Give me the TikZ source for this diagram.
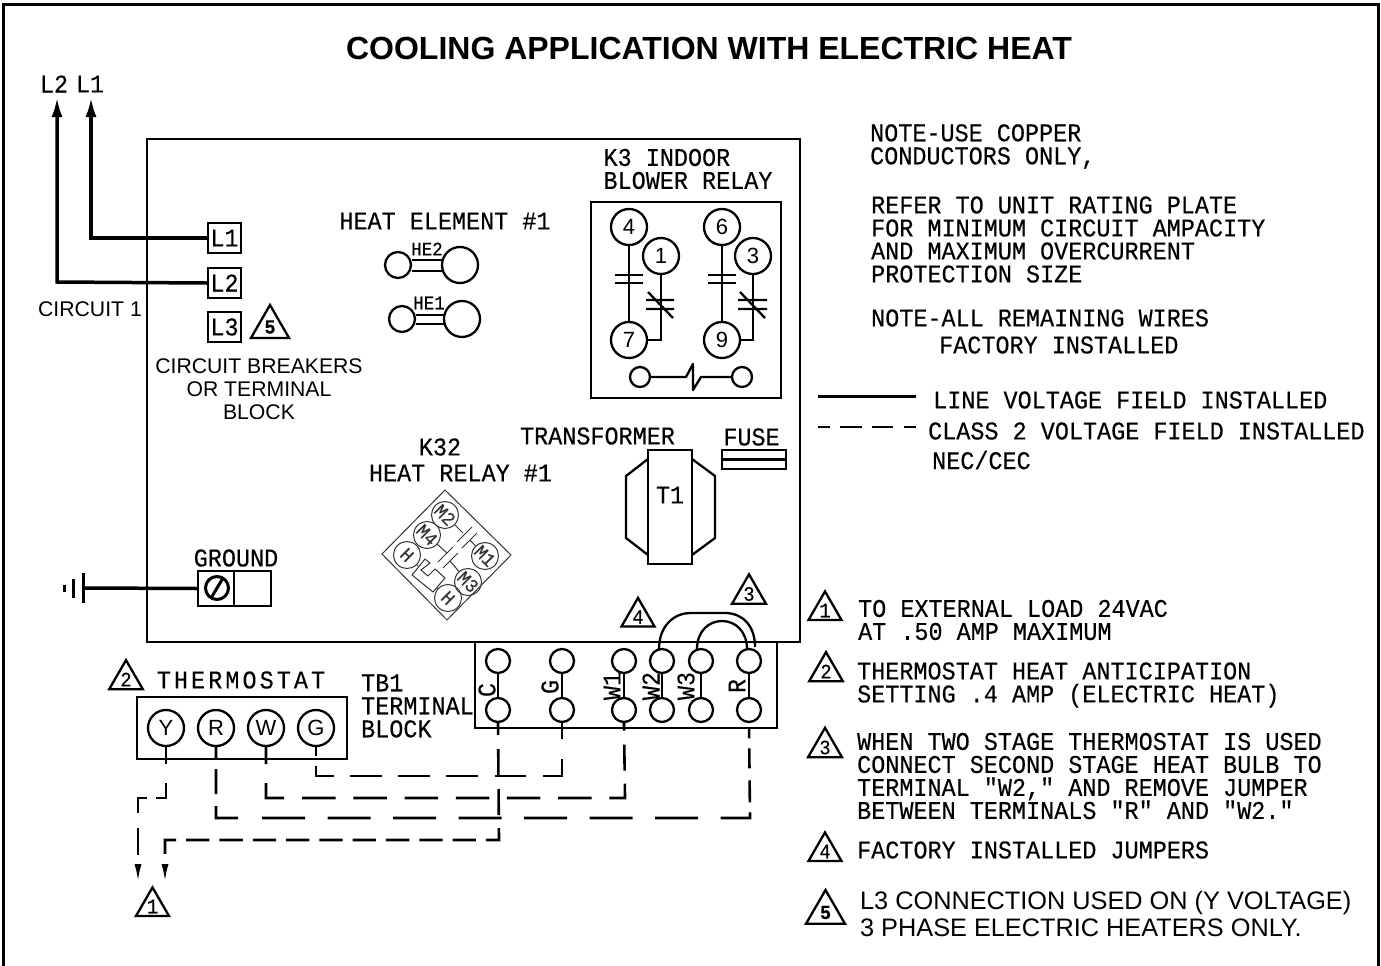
\documentclass[tikz,border=0pt]{standalone}
\usepackage{fontspec}
\setmainfont{Liberation Sans}
\newfontfamily\cadfont[FakeStretch=0.92,FakeBold=0.3]{Liberation Mono}
\newfontfamily\cadwide[FakeStretch=0.92,FakeBold=0.3,LetterSpace=12]{Liberation Mono}
\usetikzlibrary{arrows.meta,shapes.geometric}
\tikzset{%
  >={Latex[width=11pt,length=20pt]},
  % Specifications for style of nodes:
    cadText/.style = {inner sep=0pt, align=left, font=\cadfont\fontsize{25.5}{23}\selectfont},
    sansText/.style = {inner sep=0pt, align=center, font=\fontsize{21.2}{23}\selectfont},
    lugBox/.style = {rectangle, draw=black, line width=2.3pt, minimum width=33pt, minimum height=30pt, inner sep=0pt,
                     font=\cadfont\fontsize{25.5}{23}\selectfont},
    relayPin/.style = {circle, draw=black, line width=2.3pt, minimum size=36pt, inner sep=0pt,
                       font=\fontsize{22}{22}\selectfont},
    coilPin/.style = {circle, draw=black, line width=2.3pt, minimum size=20pt, inner sep=0pt},
    heatSmall/.style = {circle, draw=black, line width=2.3pt, minimum size=26pt, inner sep=0pt},
    heatBig/.style = {circle, draw=black, line width=2.3pt, minimum size=36pt, inner sep=0pt},
    heatText/.style = {inner sep=0pt, font=\cadfont\fontsize{19}{19}\selectfont},
    tbPin/.style = {circle, draw=black, line width=2.3pt, minimum size=24pt, inner sep=0pt},
    tbText/.style = {cadText, rotate=90},
    k32Pin/.style = {circle, draw=black!80, line width=1pt, minimum size=27pt, inner sep=0pt, rotate=-45,
                     font=\cadfont\fontsize{19}{19}\selectfont, text=black!80},
    noteMark/.style = {regular polygon, regular polygon sides=3, draw=black, line join=miter, line width=2.3pt,
                       minimum size=38pt, inner sep=0pt, font=\cadfont\fontsize{20.5}{20.5}\selectfont},
    fieldWire/.style = {line width=3.5pt},
    classWire/.style = {line width=2.6pt},
    loadTip/.style = {-{Latex[width=7pt,length=19pt]}},
    dashY/.style = {classWire, dash pattern=on 17 off 19 on 25 off 9 on 24 off 15 on 27 off 30},
    dashR/.style = {classWire, dash pattern=on 11 off 11 on 25 off 12 on 34 off 24
                    on 43 off 22.5 on 43 off 22.5 on 43 off 22.5 on 43 off 22.5 on 43 off 22.5 on 43 off 22.5 on 43 off 22.5
                    on 35 off 10 on 22 off 12 on 20 off 10 on 11 off 5},
    dashW/.style = {classWire, dash pattern=on 17 off 19 on 33 off 18
                    on 33.5 off 17.7 on 33.5 off 17.7 on 33.5 off 17.7 on 33.5 off 17.7 on 33.5 off 17.7 on 33.5 off 17.7
                    on 30 off 13 on 26 off 14 on 11 off 5},
    dashG/.style = {classWire, dash pattern=on 9 off 10 on 28 off 16 on 32 off 16 on 32 off 16 on 32 off 17 on 31 off 17
                    on 36 off 20 on 16 off 5},
    dashC/.style = {classWire, dash pattern=on 12 off 14 on 27 off 13 on 26 off 13 on 25 off 10
                    on 23.3 off 10 on 23.3 off 10 on 23.3 off 10 on 23.3 off 10 on 23.3 off 10 on 23.3 off 10 on 23.3 off 10
                    on 23.3 off 10 on 23.3 off 10 on 25 off 30},
}

\begin{document}
\begin{tikzpicture}[x=1pt, y=-1pt, line width=2.3pt]
  \useasboundingbox (0,0) rectangle (1381,966);
  \draw[line width=3pt] (3,966) -- (3,5) -- (1378,5) -- (1378,966);

  \node (title) [inner sep=0pt, font=\bfseries\fontsize{32}{32}\selectfont] at (709,48)
                              {COOLING APPLICATION WITH ELECTRIC HEAT};

  % Specification of nodes (position, etc.)
  \draw (147,642) rectangle (800,139);

  \node (lugOne)   [lugBox] at (224.5,238) {L1};
  \node (lugTwo)   [lugBox, below of=lugOne, node distance=45pt] {L2};
  \node (lugThree) [lugBox, below of=lugTwo, node distance=44pt] {L3};
  \node (markFive) [noteMark, minimum size=44pt, font=\cadfont\bfseries\fontsize{20}{20}\selectfont] at (270,327) {5};

  \node (supplyTwo) [cadText] at (54,84) {L2};
  \node (supplyOne) [cadText] at (90,84) {L1};
  \node (circuitText) [sansText] at (90,309) {CIRCUIT 1};
  \node (breakerText) [sansText] at (259,389) {CIRCUIT BREAKERS\\OR TERMINAL\\BLOCK};

  \node (heatTitle) [cadText] at (445,221) {HEAT ELEMENT \#1};
  \node (heSmallTwo) [heatSmall] at (398,265) {};
  \node (heBigTwo)   [heatBig, right of=heSmallTwo, node distance=62pt] {};
  \node (heSmallOne) [heatSmall] at (402,319) {};
  \node (heBigOne)   [heatBig, right of=heSmallOne, node distance=60pt] {};
  \node (heTextTwo)  [heatText] at (427,249) {HE2};
  \node (heTextOne)  [heatText] at (429,303) {HE1};

  \node (blowerText) [cadText] at (688,169) {K3 INDOOR\\BLOWER RELAY};
  \node (relayBox) [rectangle, draw=black, minimum width=190pt, minimum height=196pt, inner sep=0pt] at (686,300) {};
  \node (pinFour)  [relayPin] at (629,227) {4};
  \node (pinOne)   [relayPin] at (661,256) {1};
  \node (pinSeven) [relayPin] at (629,340) {7};
  \node (pinSix)   [relayPin] at (722,227) {6};
  \node (pinThree) [relayPin] at (753,256) {3};
  \node (pinNine)  [relayPin] at (722,340) {9};
  \node (coilLeft)  [coilPin] at (640,377) {};
  \node (coilRight) [coilPin] at (742,377) {};

  \node (relayText) [cadText] at (440,447) {K32};
  \node (heatRelayText) [cadText] at (460.5,473) {HEAT RELAY \#1};
  \node (transText) [cadText] at (597.5,436) {TRANSFORMER};
  \node (fuseText)  [cadText] at (751.5,437) {FUSE};
  \node (fuseBox) [rectangle, draw=black, minimum width=64pt, minimum height=19pt, inner sep=0pt] at (754,459.5) {};
  \node (coreBox) [rectangle, draw=black, minimum width=44pt, minimum height=114pt, inner sep=0pt] at (670,507) {};
  \node (coreText) [cadText] at (670,495) {T1};

  \node (groundText) [cadText] at (236,558) {GROUND};
  \node (groundBox) [rectangle, draw=black, minimum width=73pt, minimum height=35pt, inner sep=0pt] at (234.5,588.5) {};
  \node (groundScrew) [circle, draw=black, line width=3pt, minimum size=23pt, inner sep=0pt] at (217,588) {};

  \node (pinMTwo)   [k32Pin] at (445,515) {M2};
  \node (pinMFour)  [k32Pin] at (427,535) {M4};
  \node (pinHLeft)  [k32Pin] at (407,555) {H};
  \node (pinMOne)   [k32Pin] at (485,556) {M1};
  \node (pinMThree) [k32Pin] at (468,582) {M3};
  \node (pinHLow)   [k32Pin] at (448,598) {H};

  \node (noteCopper) [cadText, anchor=west] at (869,146.5) {NOTE-USE COPPER\\CONDUCTORS ONLY,};
  \node (noteRating) [cadText, anchor=west] at (870,239.5) {REFER TO UNIT RATING PLATE\\FOR MINIMUM CIRCUIT AMPACITY\\AND MAXIMUM OVERCURRENT\\PROTECTION SIZE};
  \node (noteWires)  [cadText, anchor=west] at (870,318) {NOTE-ALL REMAINING WIRES};
  \node (noteFactory) [cadText, anchor=west] at (938,345) {FACTORY INSTALLED};
  \node (lineText)  [cadText, anchor=west] at (932,400) {LINE VOLTAGE FIELD INSTALLED};
  \node (classText) [cadText, anchor=west] at (927,431) {CLASS 2 VOLTAGE FIELD INSTALLED};
  \node (necText)   [cadText, anchor=west] at (931,460) {NEC/CEC};
  \coordinate (lineStart) at (818,396);
  \coordinate (lineEnd) at (916,396);
  \coordinate (classStart) at (818,427);
  \coordinate (classEnd) at (916,427);

  \node (markOne)   [noteMark] at (825,610.5) {1};
  \node (legendOne) [cadText, anchor=west] at (857,620) {TO EXTERNAL LOAD 24VAC\\AT .50 AMP MAXIMUM};
  \node (markTwo)   [noteMark] at (826,671.5) {2};
  \node (legendTwo) [cadText, anchor=west] at (856,685) {THERMOSTAT HEAT ANTICIPATION\\SETTING .4 AMP (ELECTRIC HEAT)};
  \node (markThree) [noteMark] at (825,747.5) {3};
  \node (legendThree) [cadText, anchor=west] at (856,776) {WHEN TWO STAGE THERMOSTAT IS USED\\CONNECT SECOND STAGE HEAT BULB TO\\TERMINAL "W2," AND REMOVE JUMPER\\BETWEEN TERMINALS "R" AND "W2."};
  \node (markFour)  [noteMark] at (825,851.5) {4};
  \node (legendFour) [cadText, anchor=west] at (856,850) {FACTORY INSTALLED JUMPERS};
  \node (markLast)  [noteMark, minimum size=45pt, font=\cadfont\bfseries\fontsize{20}{20}\selectfont] at (825.5,912.5) {5};
  \node (legendLast) [inner sep=0pt, align=left, anchor=west, font=\fontsize{25.3}{27}\selectfont] at (859,913.5)
                              {L3 CONNECTION USED ON (Y VOLTAGE)\\3 PHASE ELECTRIC HEATERS ONLY.};

  % terminal block
  \node (tbBox) [rectangle, draw=black, minimum width=302pt, minimum height=86pt, inner sep=0pt] at (626,685) {};
  \node (tbCTop) [tbPin] at (498,661) {};
  \node (tbCLow) [tbPin, below of=tbCTop, node distance=49pt] {};
  \node (tbGTop) [tbPin] at (562,661) {};
  \node (tbGLow) [tbPin, below of=tbGTop, node distance=49pt] {};
  \node (tbWOneTop) [tbPin] at (624,661) {};
  \node (tbWOneLow) [tbPin, below of=tbWOneTop, node distance=49pt] {};
  \node (tbWTwoTop) [tbPin] at (662,661) {};
  \node (tbWTwoLow) [tbPin, below of=tbWTwoTop, node distance=49pt] {};
  \node (tbWThreeTop) [tbPin] at (701,661) {};
  \node (tbWThreeLow) [tbPin, below of=tbWThreeTop, node distance=49pt] {};
  \node (tbRTop) [tbPin] at (749,661) {};
  \node (tbRLow) [tbPin, below of=tbRTop, node distance=49pt] {};
  \node (tbCText) [tbText] at (487,690) {C};
  \node (tbGText) [tbText] at (550,687) {G};
  \node (tbWOneText) [tbText] at (612,686) {W1};
  \node (tbWTwoText) [tbText] at (651,686) {W2};
  \node (tbWThreeText) [tbText] at (686,686) {W3};
  \node (tbRText) [tbText] at (737,686) {R};
  \node (markJump) [noteMark] at (638,617) {4};
  \node (markBulb) [noteMark] at (749,594) {3};
  \node (tbTitle) [cadText, anchor=west] at (360,706) {TB1\\TERMINAL\\BLOCK};

  % thermostat
  \node (statBox) [rectangle, draw=black, minimum width=210pt, minimum height=62pt, inner sep=0pt] at (242,728) {};
  \node (statY) [relayPin] at (166,728) {Y};
  \node (statR) [relayPin, right of=statY, node distance=50pt] {R};
  \node (statW) [relayPin, right of=statR, node distance=50pt] {W};
  \node (statG) [relayPin, right of=statW, node distance=50pt] {G};
  \node (statText) [cadText, font=\cadwide\fontsize{25.5}{25.5}\selectfont] at (241,680) {THERMOSTAT};
  \node (markStat) [noteMark] at (126,679.5) {2};
  \node (markLoad) [noteMark] at (152.5,906.5) {1};
  \coordinate (loadLeft) at (138,883);
  \coordinate (loadRight) at (165,883);

  % Specification of lines between nodes specified above
  \draw[fieldWire, ->] (lugOne.west) -- (91,238) -- (91,97);
  \draw[fieldWire, ->] (lugTwo.west) -- (57,282) -- (57,97);

  \draw (heSmallTwo.east) ++(0,-5) -- (442,260);
  \draw (heSmallTwo.east) ++(0,6) -- (442,271);
  \draw (heSmallOne.east) ++(0,-4) -- (444,315);
  \draw (heSmallOne.east) ++(0,5) -- (444,324);

  \draw (pinFour) -- (pinSeven);
  \draw (615,275) -- (643,275) (615,283) -- (643,283);
  \draw (pinOne) -- (pinOne |- pinSeven) -- (pinSeven);
  \draw (646,300) -- (674,300) (646,309) -- (674,309) (648,292) -- (673,318);
  \draw (pinSix) -- (pinNine);
  \draw (708,275) -- (736,275) (708,283) -- (736,283);
  \draw (pinThree) -- (pinThree |- pinNine) -- (pinNine);
  \draw (738,300) -- (767,300) (738,309) -- (767,309) (740,292) -- (765,318);
  \draw[line join=round] (coilLeft) -- (686,377) -- (693,364) -- (693,390) -- (701,377) -- (coilRight);

  \draw (fuseBox.west) -- (fuseBox.east);
  \draw (648,459) -- (626,476) -- (626,538) -- (648,555);
  \draw (692,459) -- (715,476) -- (715,538) -- (692,555);

  \draw[fieldWire] (83,588) -- (groundBox.west);
  \draw (groundBox.north) ++(-0.5,0) -- ++(0,35);
  \draw[line width=3pt] (83,573) -- (83,603) (73,579) -- (73,598) (64,585) -- (64,592);
  \draw[line width=3pt] (211,598) -- (223,578);

  % K32 relay base, thin lines
  \begin{scope}[line width=1pt, draw=black!80]
    \draw (445,490) -- (382,554) -- (447,620) -- (511,555) -- cycle;
    \draw (pinMTwo) -- (463,533);
    \draw (457,542) -- (472,527) (462,548) -- (477,533);
    \draw (470,540) -- (pinMOne);
    \draw (pinMFour) -- (447,553);
    \draw (438,562) -- (453,547) (443,568) -- (458,553);
    \draw (450,561) -- (pinMThree);
    \draw (pinHLeft) -- (418,566);
    \draw (425,559) -- (412,575) -- (433,592) -- (445,578) -- (435,569) -- (428,576) -- (421,570) -- (430,563) -- cycle;
    \draw (437,588) -- (pinHLow);
  \end{scope}

  \draw (tbCTop) -- (tbCLow);
  \draw (tbGTop) -- (tbGLow);
  \draw (tbWOneTop) -- (tbWOneLow);
  \draw (tbWTwoTop) -- (tbWTwoLow);
  \draw (tbWThreeTop) -- (tbWThreeLow);
  \draw (tbRTop) -- (tbRLow);
  \draw (659,649) .. controls (659,625) and (675,613) .. (690,613) -- (725,613) .. controls (742,613) and (755,625) .. (755,647);
  \draw (697,649) .. controls (697,632) and (708,621) .. (722,621) .. controls (736,621) and (747,632) .. (747,649);

  \draw[line width=3pt] (lineStart) -- (lineEnd);
  \draw[classWire, dash pattern=on 12 off 10 on 22 off 10 on 21 off 11 on 12 off 5] (classStart) -- (classEnd);

  % field wiring, dashed
  \draw[dashY, loadTip] (statY.south) -- (166,798) -- (138,798) -- (loadLeft);
  \draw[dashR] (statR.south) -- (216,818) -- (750,818) -- (tbRLow.south);
  \draw[dashW] (statW.south) -- (266,798) -- (625,798) -- (tbWOneLow.south);
  \draw[dashG] (statG.south) -- (316,776) -- (562,776) -- (tbGLow.south);
  \draw[dashC, loadTip] (tbCLow.south) -- (499,840) -- (165,840) -- (loadRight);

\end{tikzpicture}
\end{document}
